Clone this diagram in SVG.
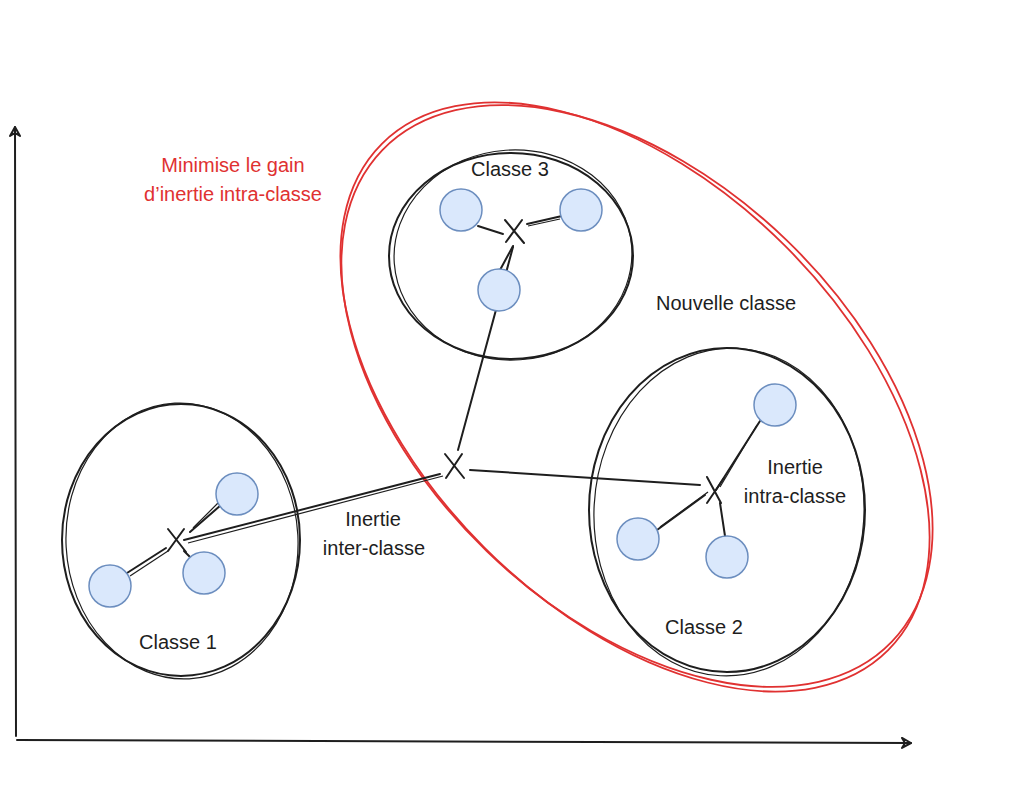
<svg xmlns="http://www.w3.org/2000/svg" width="1034" height="802" viewBox="0 0 1034 802">
<defs>
<style>
.t{font-family:"Liberation Sans",Arial,sans-serif;font-size:20px;fill:#1e1e1e;text-anchor:middle}
.r{fill:#e03131}
.ln{stroke:#1e1e1e;stroke-width:2;fill:none;stroke-linecap:round}
.thin{stroke:#1e1e1e;stroke-width:1.2;fill:none}
.pt{fill:#dae8fc;stroke:#6c8ebf;stroke-width:1.5}
.red{stroke:#e03131;stroke-width:1.8;fill:none}
</style>
<marker id="ah" viewBox="0 0 12 12" refX="10" refY="6" markerWidth="12" markerHeight="12" markerUnits="userSpaceOnUse" orient="auto">
<path d="M1,1 L10,6 L1,11 L4,6 Z" fill="none" stroke="#1e1e1e" stroke-width="2" stroke-linejoin="round"/>
</marker>
</defs>
<rect width="1034" height="802" fill="#ffffff"/>

<g id="axes">
<path class="ln" d="M16,736 L15,127" marker-end="url(#ah)"/>
<path class="ln" d="M17,740 L911,743" marker-end="url(#ah)"/>
</g>

<g id="nouvelle-classe">
<ellipse class="red" cx="635" cy="397" rx="358" ry="213" transform="rotate(45 635 397)"/>
<ellipse class="red" cx="637" cy="396" rx="354" ry="216" transform="rotate(44 637 396)" stroke-width="1"/>
<text class="t" x="726" y="310">Nouvelle classe</text>
</g>

<g id="annotation">
<text class="t r" x="233" y="172">Minimise le gain</text>
<text class="t r" x="233" y="201">d’inertie intra-classe</text>
</g>

<g id="connectors">
<path class="ln" d="M458,450 L513,247"/>
<path class="ln" d="M470,470 L700,485"/>
<path class="ln" d="M440,474 L184,540"/>
<path class="thin" d="M443,476 L188,543"/>
<path class="ln" d="M478,226 L503,234"/>
<path class="ln" d="M562,216 L527,224"/>
<path class="thin" d="M560,219 L528,226"/>
<path class="ln" d="M500,270 L513,246"/>
<path class="ln" d="M760,421 L716,490"/>
<path class="thin" d="M757,425 L720,487"/>
<path class="ln" d="M657,530 L705,495"/>
<path class="thin" d="M660,527 L708,492"/>
<path class="ln" d="M725,536 L720,503"/>
<path class="ln" d="M221,505 L190,532"/>
<path class="thin" d="M218,503 L193,528"/>
<path class="ln" d="M127,573 L166,548"/>
<path class="thin" d="M130,576 L168,551"/>
<path class="ln" d="M184,551 L192,559"/>
</g>

<g id="classe3">
<ellipse class="ln" cx="511" cy="256" rx="122" ry="103"/>
<ellipse class="thin" cx="513" cy="255" rx="119" ry="105" transform="rotate(-4 513 255)"/>
<circle class="pt" cx="461" cy="210" r="21"/>
<circle class="pt" cx="581" cy="210" r="21"/>
<circle class="pt" cx="499" cy="290" r="21"/>
<path class="ln" d="M505,220 L524,243 M522,220 L506,242"/>
<text class="t" x="510" y="176">Classe 3</text>
</g>

<g id="classe2">
<ellipse class="ln" cx="727" cy="510" rx="138" ry="162"/>
<ellipse class="thin" cx="729" cy="512" rx="135" ry="164" transform="rotate(3 729 512)"/>
<circle class="pt" cx="775" cy="405" r="21"/>
<circle class="pt" cx="638" cy="539" r="21"/>
<circle class="pt" cx="727" cy="557" r="21"/>
<path class="ln" d="M707,477 L721,503 M724,478 L707,503"/>
<text class="t" x="795" y="474">Inertie</text>
<text class="t" x="795" y="503">intra-classe</text>
<text class="t" x="704" y="634">Classe 2</text>
</g>

<g id="classe1">
<ellipse class="ln" cx="181" cy="540" rx="119" ry="136"/>
<ellipse class="thin" cx="182" cy="541" rx="116" ry="138" transform="rotate(-3 182 541)"/>
<circle class="pt" cx="237" cy="494" r="21"/>
<circle class="pt" cx="110" cy="586" r="21"/>
<circle class="pt" cx="204" cy="573" r="21"/>
<path class="ln" d="M168,529 L186,552 M184,529 L168,551"/>
<text class="t" x="178" y="649">Classe 1</text>
</g>

<g id="centre">
<path class="ln" d="M445,454 L464,478 M462,454 L446,478"/>
<text class="t" x="373" y="526">Inertie</text>
<text class="t" x="374" y="555">inter-classe</text>
</g>
</svg>
